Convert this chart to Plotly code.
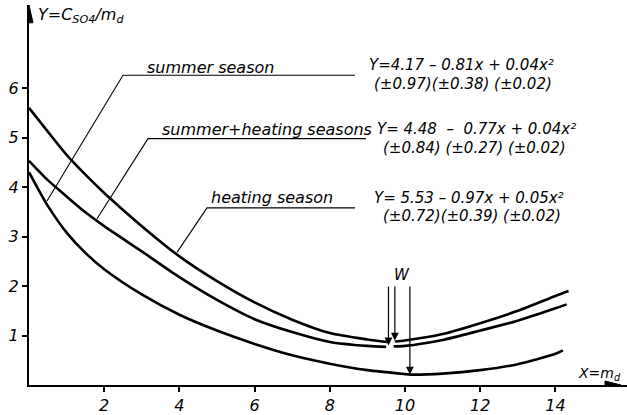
import plotly.graph_objects as go

# ---- data ----
x_heating = [0, 0.5, 1, 1.5, 2, 3, 4, 5, 6, 7, 8, 9, 9.52, None, 9.73, 10, 11, 12, 13, 14, 14.35]
y_heating = [5.6, 5.12, 4.65, 4.25, 3.88, 3.21, 2.6, 2.1, 1.67, 1.32, 1.05, 0.92, 0.87, None, 0.88, 0.9, 1.03, 1.25, 1.5, 1.8, 1.9]

x_both = [0, 0.5, 1, 1.5, 2, 3, 4, 5, 6, 7, 8, 9, 9.5, None, 9.7, 10, 11, 12, 13, 14, 14.3]
y_both = [4.53, 4.14, 3.81, 3.49, 3.21, 2.7, 2.18, 1.72, 1.33, 1.07, 0.87, 0.79, 0.77, None, 0.78, 0.79, 0.91, 1.1, 1.3, 1.55, 1.63]

x_summer = [0, 0.25, 0.5, 1, 1.5, 2, 3, 4, 5, 6, 7, 8, 9, 10, 10.15, 11, 12, 13, 14, 14.2]
y_summer = [4.3, 3.95, 3.62, 3.08, 2.67, 2.34, 1.83, 1.42, 1.1, 0.83, 0.6, 0.43, 0.3, 0.22, 0.21, 0.23, 0.3, 0.42, 0.63, 0.7]

x_ticks = [2, 4, 6, 8, 10, 12, 14]
y_ticks = [1, 2, 3, 4, 5, 6]

# W (minimum) markers: x position and end of arrow
w_x = [9.56, 9.73, 10.13]
w_end = [0.8, 0.9, 0.21]

labels = ["summer season", "summer+heating seasons", "heating season"]
equations = ["Y=4.17 – 0.81x + 0.04x²", "Y= 4.48  –  0.77x + 0.04x²", "Y= 5.53 – 0.97x + 0.05x²"]
errors = ["(±0.97)(±0.38) (±0.02)", "(±0.84) (±0.27) (±0.02)", "(±0.72)(±0.39) (±0.02)"]

# ---- pixel helpers for annotations ----
W, H = 627, 415
L, B, T = 29, 26, 5
PXX = 37.6
PXY = 50.0
def X(px):
    return (px - L) / PXX
def Y(py):
    return (H - B - py) / PXY

FONT = dict(family="DejaVu Sans", color="black", style="italic")

fig = go.Figure()
for xs, ys in [(x_heating, y_heating), (x_both, y_both), (x_summer, y_summer)]:
    fig.add_trace(go.Scatter(x=xs, y=ys, mode="lines", connectgaps=False,
                             line=dict(color="black", width=2.6, shape="spline", smoothing=0.7),
                             hoverinfo="skip", showlegend=False, cliponaxis=False))

shapes = []
# leader lines
leaders = [
    [(47, 203), (123, 76), (355, 76)],
    [(97, 221), (148, 140), (366, 140)],
    [(177, 255), (207, 210), (355, 210)],
]
for pts in leaders:
    path = "M " + " L ".join(f"{X(a):.4f},{Y(b):.4f}" for a, b in pts)
    shapes.append(dict(type="path", path=path, xref="x", yref="y",
                       line=dict(color="black", width=1.1)))
# axis arrowheads
shapes.append(dict(type="path", xref="x", yref="y",
                   path=f"M {X(25)},{Y(23)} L {X(29)},{Y(5)} L {X(33)},{Y(23)} Z",
                   fillcolor="black", line=dict(color="black", width=1)))
shapes.append(dict(type="path", xref="x", yref="y",
                   path=f"M {X(605)},{Y(385)} L {X(621)},{Y(389)} L {X(605)},{Y(393)} Z",
                   fillcolor="black", line=dict(color="black", width=1)))

annotations = []
# W arrows
for xv, ye in zip(w_x, w_end):
    annotations.append(dict(x=xv, y=ye, ax=xv, ay=Y(288), xref="x", yref="y",
                            axref="x", ayref="y", showarrow=True, arrowhead=2,
                            arrowsize=1.3, arrowwidth=1.2, arrowcolor="black", text=""))
annotations.append(dict(x=X(402), y=Y(278), xref="x", yref="y", text="W",
                        showarrow=False, font=dict(size=15, **FONT)))

# curve labels
label_pos = [(145, 68), (160, 131), (209, 200)]
for (px, py), t in zip(label_pos, labels):
    annotations.append(dict(x=X(px), y=Y(py), xref="x", yref="y", text=t, xanchor="left",
                            showarrow=False, font=dict(size=16, **FONT)))
eq_pos = [(367, 66), (375, 130), (372, 200)]
err_pos = [(372, 85), (381, 149), (381, 218)]
for (px, py), t in zip(eq_pos, equations):
    annotations.append(dict(x=X(px), y=Y(py), xref="x", yref="y", text=t, xanchor="left",
                            showarrow=False, font=dict(size=15, **FONT)))
for (px, py), t in zip(err_pos, errors):
    annotations.append(dict(x=X(px), y=Y(py), xref="x", yref="y", text=t, xanchor="left",
                            showarrow=False, font=dict(size=15, **FONT)))

# axis titles
annotations.append(dict(x=X(36), y=Y(16), xref="x", yref="y",
                        text="Y=C<sub>SO4</sub>/m<sub>d</sub>", xanchor="left",
                        showarrow=False, font=dict(size=16, **FONT)))
annotations.append(dict(x=X(623), y=Y(378), xref="x", yref="y",
                        text="X=m<sub>d</sub>", xanchor="right",
                        showarrow=False, font=dict(size=14, **FONT)))

fig.update_layout(
    width=W, height=H,
    margin=dict(l=L, r=0, t=T, b=B),
    paper_bgcolor="white", plot_bgcolor="white",
    shapes=shapes, annotations=annotations,
    xaxis=dict(range=[0, (W - L) / PXX], tickvals=x_ticks, showgrid=False, zeroline=False,
               showline=True, linecolor="black", linewidth=2, ticks="outside",
               ticklen=5, tickwidth=1.5, tickcolor="black",
               tickfont=dict(size=16, **FONT)),
    yaxis=dict(range=[0, (H - B - T) / PXY], tickvals=y_ticks, showgrid=False, zeroline=False,
               showline=True, linecolor="black", linewidth=2, ticks="outside",
               ticklen=5, tickwidth=1.5, tickcolor="black",
               tickfont=dict(size=16, **FONT)),
)

fig.write_html("out.html", config={"displayModeBar": False},
               post_script="document.body.style.margin='0';document.body.style.overflow='hidden';")
